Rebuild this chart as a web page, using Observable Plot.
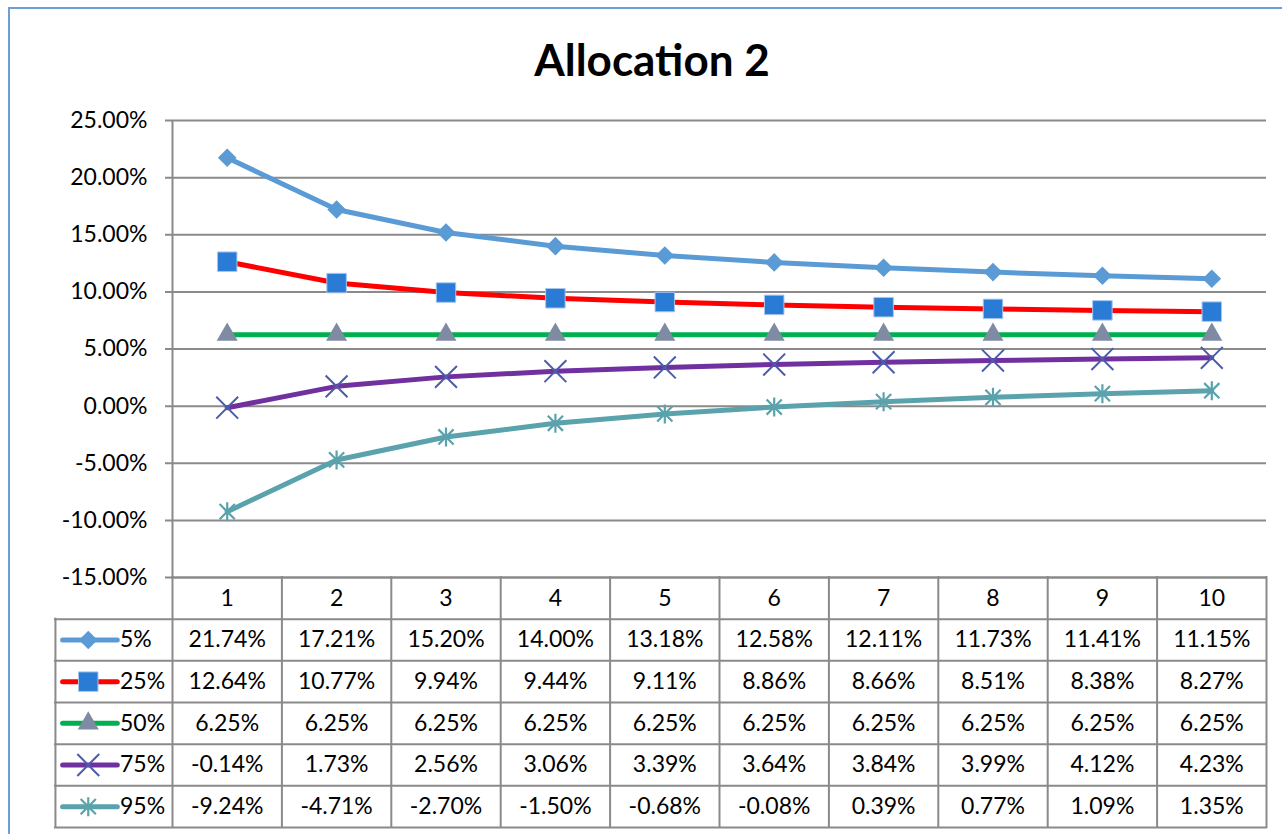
<!DOCTYPE html>
<html>
<head>
<meta charset="utf-8">
<script src="https://cdn.jsdelivr.net/npm/d3@7"></script>
<script src="https://cdn.jsdelivr.net/npm/@observablehq/plot@0.6"></script>
<style>
  html, body { margin: 0; padding: 0; background: #fff; }
  #wrap { position: relative; width: 1282px; height: 834px; overflow: hidden; background: #fff; font-family: Lato, sans-serif; }
  #frame { position: absolute; left: 8px; top: 7px; width: 1300px; height: 860px; border: 2px solid #6d9fd7; box-sizing: border-box; }
  #title { position: absolute; left: 0; top: 37px; width: 1304px; text-align: center; font: bold 44px/44px Lato, sans-serif; color: #000; }
  #chart, #table { position: absolute; left: 0; }
  #chart { top: 0; }
  #table { top: 577px; }
</style>
</head>
<body>
<div id="wrap">
  <div id="frame"></div>
  <div id="title">Allocation 2</div>
  <div id="chart"></div>
  <div id="table"></div>
</div>
<script>
// Periods (category axis) and percentile series, values in percent
const periods = [1, 2, 3, 4, 5, 6, 7, 8, 9, 10];
const seriesNames = ["5%", "25%", "50%", "75%", "95%"];
const pct5  = [21.74, 17.21, 15.20, 14.00, 13.18, 12.58, 12.11, 11.73, 11.41, 11.15];
const pct25 = [12.64, 10.77, 9.94, 9.44, 9.11, 8.86, 8.66, 8.51, 8.38, 8.27];
const pct50 = [6.25, 6.25, 6.25, 6.25, 6.25, 6.25, 6.25, 6.25, 6.25, 6.25];
const pct75 = [-0.14, 1.73, 2.56, 3.06, 3.39, 3.64, 3.84, 3.99, 4.12, 4.23];
const pct95 = [-9.24, -4.71, -2.70, -1.50, -0.68, -0.08, 0.39, 0.77, 1.09, 1.35];
const yTicks = [-15, -10, -5, 0, 5, 10, 15, 20, 25];

const seriesValues = [pct5, pct25, pct50, pct75, pct95];

// Star marker: vertical bar plus a diagonal cross
const starSymbol = {
  draw(ctx, size) {
    const h = Math.sqrt(size / Math.PI);
    const a = h * 0.8;
    ctx.moveTo(0, -h); ctx.lineTo(0, h);
    ctx.moveTo(-a, -a); ctx.lineTo(a, a);
    ctx.moveTo(-a, a); ctx.lineTo(a, -a);
  }
};

const styles = [
  {line: "#5b9bd5", symbol: "diamond2", fill: "#5b9bd5", stroke: "none", r: 8.4, sw: 0},
  {line: "#ff0000", symbol: "square", fill: "#2a7bd6", stroke: "#a6c6ee", r: 11, sw: 1},
  {line: "#00b050", symbol: "triangle", fill: "#7f8ba3", stroke: "none", r: 7.8, sw: 0},
  {line: "#7030a0", symbol: "times", fill: "none", stroke: "#4a5caa", r: 10, sw: 2},
  {line: "#5aa2ac", symbol: starSymbol, fill: "none", stroke: "#5aa2ac", r: 9.5, sw: 2.2}
];

const records = seriesNames.flatMap((name, i) =>
  periods.map((p, j) => ({series: name, row: i, period: p, value: seriesValues[i][j]}))
);

const GRID = "#8a8a8a";
const fmt = v => v.toFixed(2) + "%";
const baseStyle = {fontFamily: "Lato, sans-serif", fontSize: "23px", color: "#000", background: "transparent", overflow: "visible"};

// Line chart
const chartMarks = [
  Plot.ruleY(yTicks, {y: d => d, stroke: GRID, strokeWidth: 2, insetLeft: -7}),
  Plot.ruleX([0.5], {x: d => d, stroke: GRID, strokeWidth: 2}),
  Plot.text(yTicks, {y: d => d, text: fmt, frameAnchor: "left", textAnchor: "end", dx: -25, fill: "#000"})
];
seriesNames.forEach((name, i) => {
  const s = styles[i];
  const data = records.filter(d => d.series === name);
  chartMarks.push(
    Plot.line(data, {x: "period", y: "value", stroke: s.line, strokeWidth: 5, strokeLinejoin: "round", strokeLinecap: "round"}),
    Plot.dot(data, {x: "period", y: "value", symbol: s.symbol, r: s.r, fill: s.fill, stroke: s.stroke, strokeWidth: s.sw})
  );
});

const chart = Plot.plot({
  width: 1282,
  height: 600,
  marginLeft: 172,
  marginRight: 16,
  marginTop: 120,
  marginBottom: 23,
  style: baseStyle,
  x: {domain: [0.5, 10.5], axis: null},
  y: {domain: [-15, 25], axis: null},
  marks: chartMarks
});
document.getElementById("chart").append(chart);

// Data table below the chart, with the legend keys in its first column
const LEGEND_LEFT = -0.57;
const colEdges = periods.map(p => p - 0.5).concat([periods[periods.length - 1] + 0.5]);
const rowEdges = seriesNames.map((_, i) => i + 1).concat([seriesNames.length + 1]);

const tableMarks = [
  Plot.ruleY([0], {y: d => d, x1: 0.5, x2: 10.5, stroke: GRID, strokeWidth: 2, strokeLinecap: "square"}),
  Plot.ruleY(rowEdges, {y: d => d, x1: LEGEND_LEFT, x2: 10.5, stroke: GRID, strokeWidth: 2, strokeLinecap: "square"}),
  Plot.ruleX(colEdges, {x: d => d, y1: 0, y2: 6, stroke: GRID, strokeWidth: 2, strokeLinecap: "square"}),
  Plot.ruleX([LEGEND_LEFT], {x: d => d, y1: 1, y2: 6, stroke: GRID, strokeWidth: 2, strokeLinecap: "square"}),
  Plot.text(periods, {x: d => d, y: () => 0.5, text: d => String(d), fill: "#000"}),
  Plot.text(records, {x: "period", y: d => d.row + 1.5, text: d => fmt(d.value), fill: "#000"}),
  Plot.text(seriesNames, {x: () => 0.02, y: (d, i) => i + 1.5, text: d => d, textAnchor: "start", fill: "#000"})
];
seriesNames.forEach((name, i) => {
  const s = styles[i];
  tableMarks.push(
    Plot.ruleY([i + 1.5], {y: d => d, x1: -0.5, x2: 0, stroke: s.line, strokeWidth: 5, strokeLinecap: "round"}),
    Plot.dot([i + 1.5], {x: () => -0.27, y: d => d, symbol: s.symbol, r: s.r, fill: s.fill, stroke: s.stroke, strokeWidth: s.sw})
  );
});

const table = Plot.plot({
  width: 1282,
  height: 257,
  marginLeft: 172,
  marginRight: 16,
  marginTop: 0,
  marginBottom: 7,
  style: baseStyle,
  x: {domain: [0.5, 10.5], axis: null},
  y: {domain: [6, 0], axis: null},
  marks: tableMarks
});
document.getElementById("table").append(table);
</script>
</body>
</html>
